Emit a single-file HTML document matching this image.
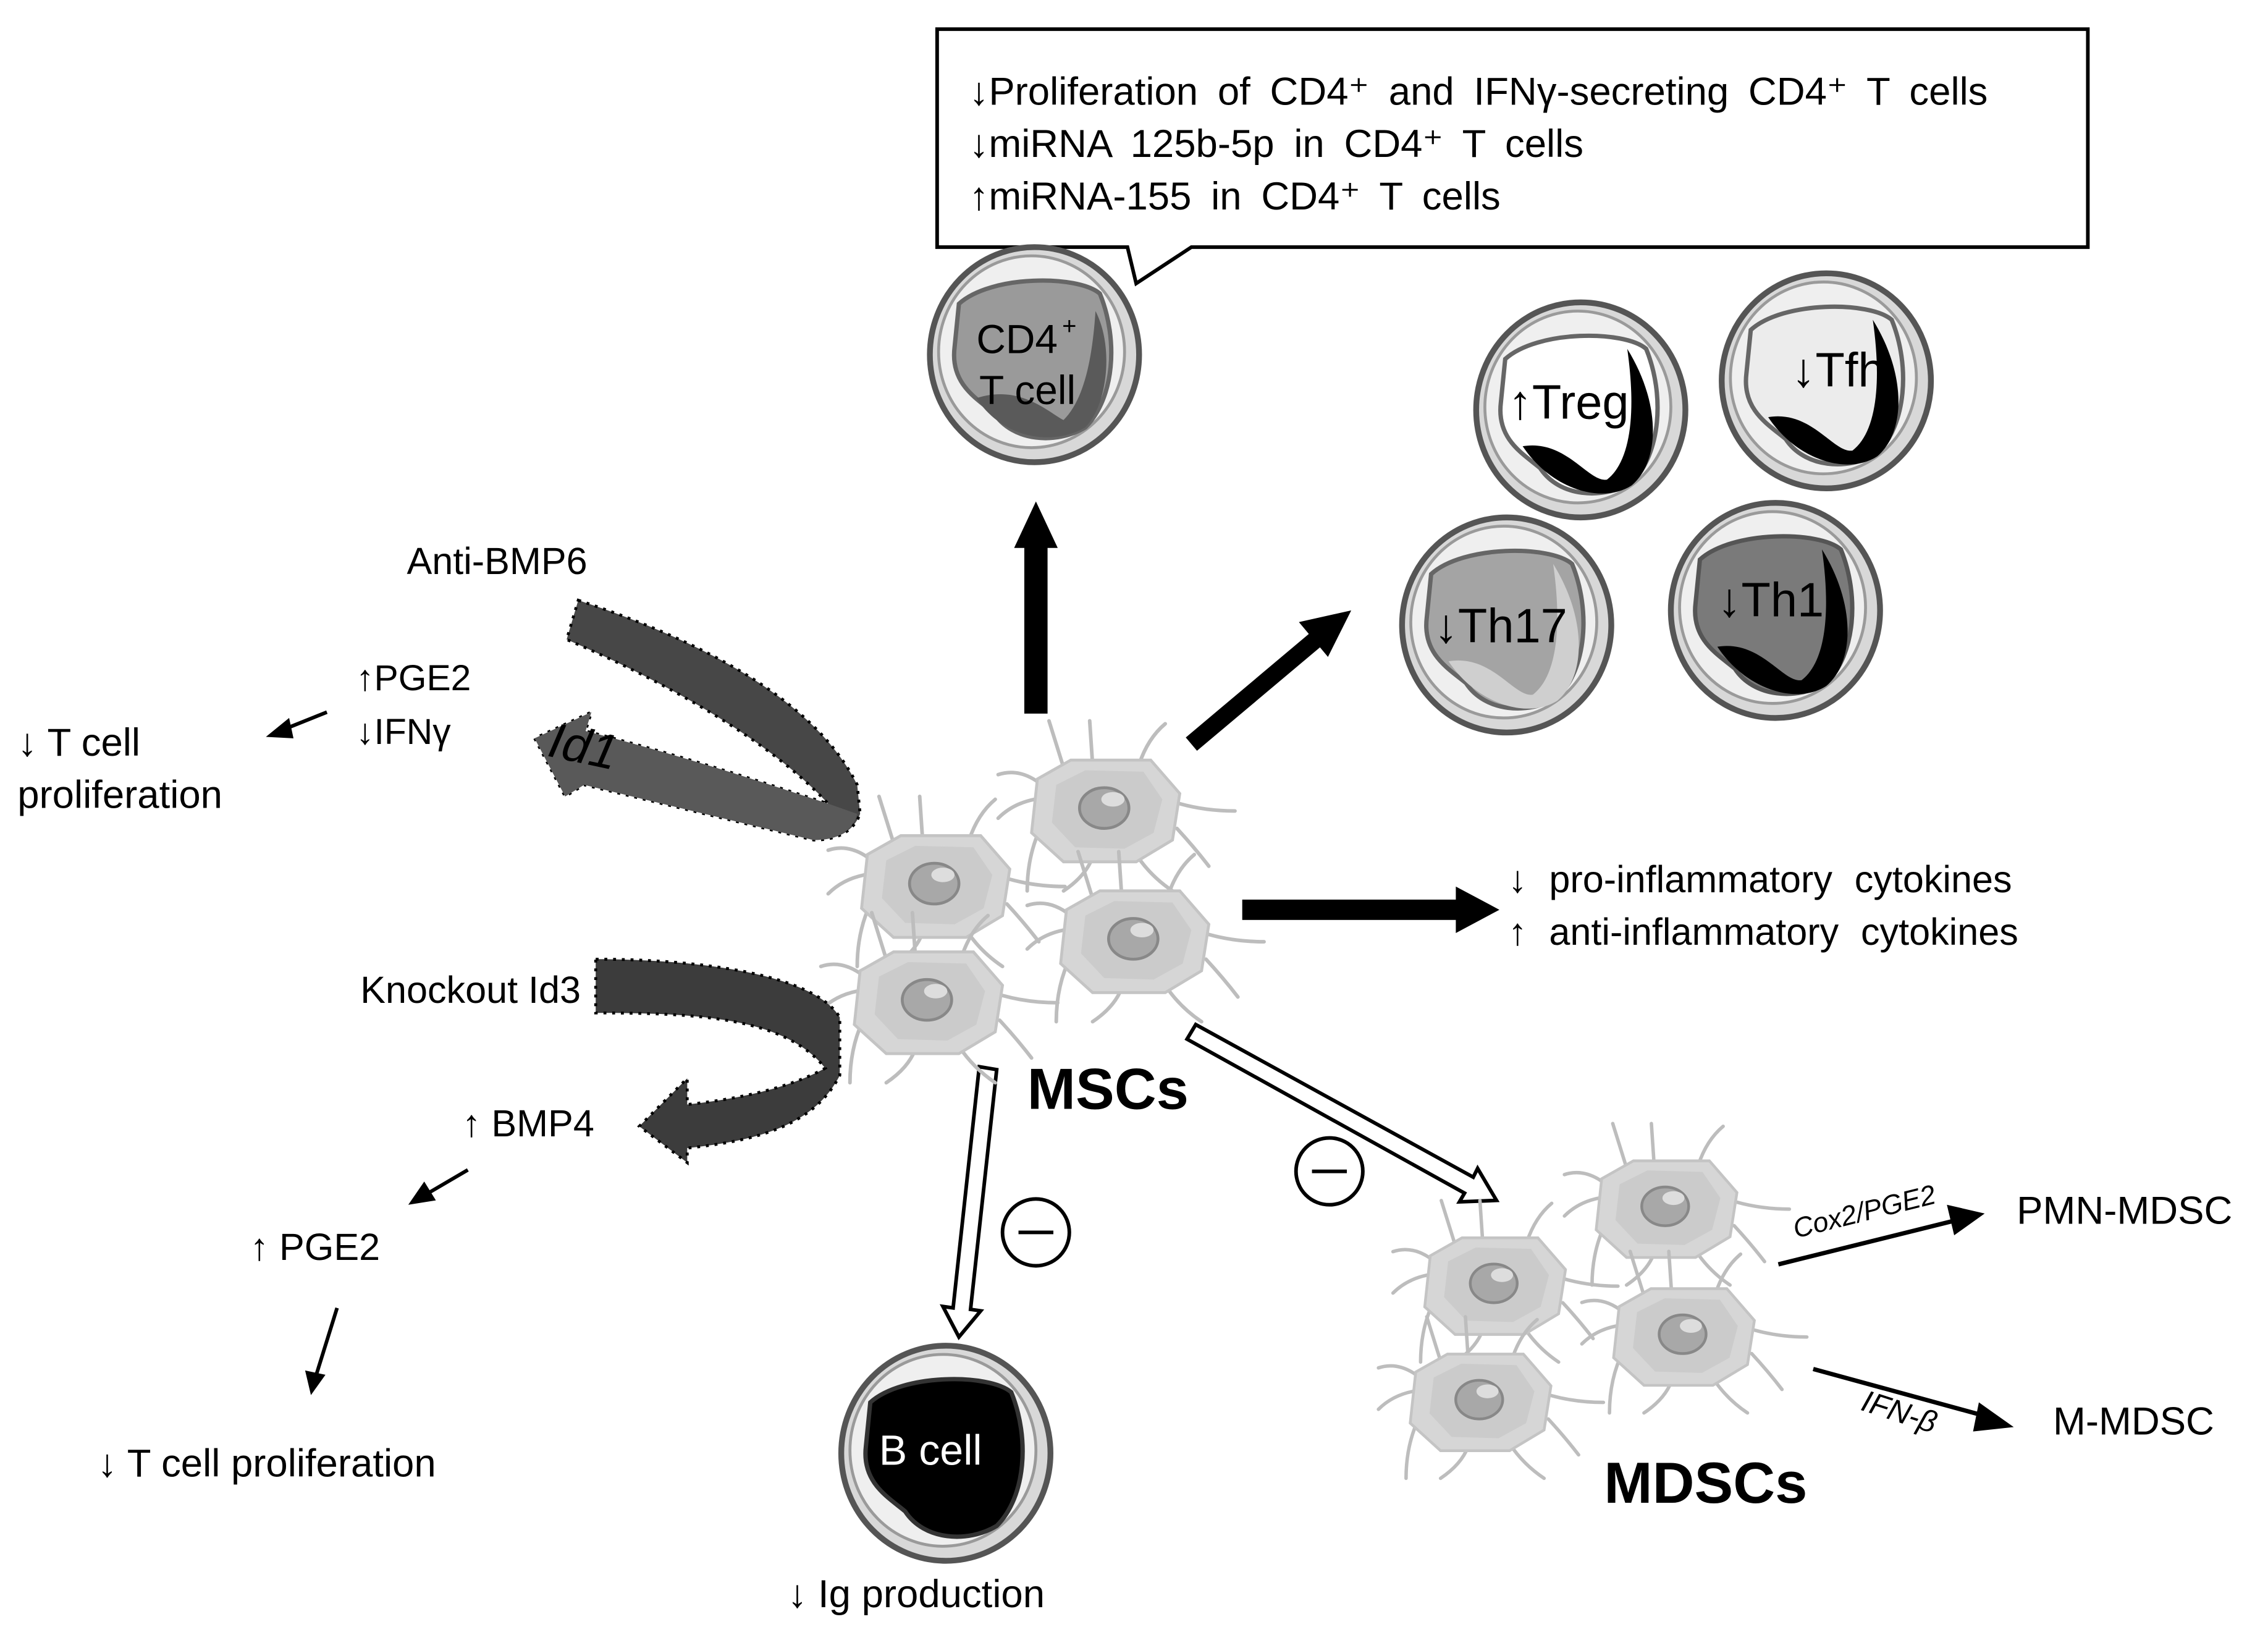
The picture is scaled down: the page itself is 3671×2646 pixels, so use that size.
<!DOCTYPE html>
<html><head><meta charset="utf-8"><style>
html,body{margin:0;padding:0;background:#fff;}
svg{display:block;}
text{font-family:"Liberation Sans",sans-serif;fill:#000;}
</style></head><body>
<svg width="3671" height="2646" viewBox="0 0 1561 1125" xmlns="http://www.w3.org/2000/svg">
<defs>
<g id="tc">
<ellipse cx="0" cy="0" rx="72" ry="74" fill="#d8d8d8" stroke="#555" stroke-width="4"/>
<ellipse cx="-2" cy="-2" rx="64" ry="66" fill="#efefef" stroke="#9a9a9a" stroke-width="2"/>
</g>
<g id="msc">
<g stroke="#bdbdbd" stroke-width="2.5" fill="none" stroke-linecap="round">
<path d="M-30,-30 L-40,-62 M-10,-32 L-12,-62 M22,-32 Q28,-50 40,-60 M-45,-18 Q-60,-30 -75,-25 M50,-5 Q68,0 88,0 M48,12 Q60,25 70,38 M20,30 Q30,45 45,55 M-10,32 Q-15,45 -30,55 M-45,10 Q-55,30 -55,55 M-50,-8 Q-65,-5 -75,5"/>
</g>
<path d="M-48,-22 L-25,-35 L30,-35 L50,-12 L45,20 L20,35 L-30,35 L-52,15 Z" fill="#d6d6d6" stroke="#c4c4c4" stroke-width="2"/>
<path d="M-35,-18 L-15,-28 L25,-27 L38,-8 L32,15 L12,26 L-22,25 L-38,8 Z" fill="#cbcbcb"/>
<ellipse cx="-2" cy="-2" rx="17" ry="14" fill="#a8a8a8" stroke="#888" stroke-width="2"/>
<ellipse cx="4" cy="-8" rx="8" ry="5" fill="#ddd"/>
</g>
<path id="nuc" d="M-52,-35 C-30,-55 30,-55 45,-42 C58,-10 55,30 35,50 C15,62 -15,60 -28,40 C-40,30 -58,20 -55,-5 Z"/>
<path id="cres" d="M-40,25 C-10,20 5,50 18,48 C35,35 38,0 32,-42 C55,-5 55,35 35,52 C15,65 -20,55 -40,25 Z"/>
</defs>

<!-- callout -->
<path d="M645,20 L1437,20 L1437,170 L820,170 L782,195 L776,170 L645,170 Z" fill="#fff" stroke="#000" stroke-width="2.5"/>
<g font-size="27" word-spacing="6">
<text x="667" y="72">↓Proliferation of CD4⁺ and IFNγ-secreting CD4⁺ T cells</text>
<text x="667" y="108">↓miRNA 125b-5p in CD4⁺ T cells</text>
<text x="667" y="144">↑miRNA-155 in CD4⁺ T cells</text>
</g>

<!-- CD4 cell -->
<g transform="translate(712,244)">
<use href="#tc"/>
<use href="#nuc" fill="#9a9a9a" stroke="#666" stroke-width="3"/>
<path d="M-40,30 C-10,20 10,40 20,45 C35,30 40,0 42,-30 C55,-5 50,35 35,50 C15,62 -20,60 -40,30 Z" fill="#5a5a5a"/>
<text x="-40" y="-1" font-size="28">CD4</text><text x="19" y="-14" font-size="17">+</text>
<text x="-38" y="34" font-size="28">T cell</text>
</g>

<!-- Treg -->
<g transform="translate(1088,282)">
<use href="#tc"/>
<use href="#nuc" fill="#fff" stroke="#666" stroke-width="3"/>
<use href="#cres" fill="#000"/>
<text x="-50" y="6" font-size="33">↑Treg</text>
</g>
<!-- Tfh -->
<g transform="translate(1257,262)">
<use href="#tc"/>
<use href="#nuc" fill="#ececec" stroke="#666" stroke-width="3"/>
<use href="#cres" fill="#000"/>
<text x="-24" y="4" font-size="33">↓Tfh</text>
</g>
<!-- Th17 -->
<g transform="translate(1037,430)">
<use href="#tc"/>
<use href="#nuc" fill="#a4a4a4" stroke="#666" stroke-width="3"/>
<use href="#cres" fill="#cfcfcf"/>
<text x="-50" y="12" font-size="33">↓Th17</text>
</g>
<!-- Th1 -->
<g transform="translate(1222,420)">
<use href="#tc"/>
<use href="#nuc" fill="#7a7a7a" stroke="#555" stroke-width="3"/>
<use href="#cres" fill="#000"/>
<text x="-40" y="4" font-size="33">↓Th1</text>
</g>

<!-- B cell -->
<g transform="translate(651,1000)">
<use href="#tc"/>
<use href="#nuc" fill="#000" stroke="#333" stroke-width="3"/>
<text x="-46" y="8" font-size="29" style="fill:#fff">B cell</text>
</g>
<text x="542" y="1106" font-size="27">↓ Ig production</text>

<!-- solid arrows -->
<rect x="705" y="375" width="16" height="116" fill="#000"/>
<polygon points="713,345 698,377 728,377" fill="#000"/>
<line x1="820" y1="512" x2="908" y2="438" stroke="#000" stroke-width="12"/>
<polygon points="930,420 894,428 914,452" fill="#000"/>
<rect x="855" y="619" width="150" height="14" fill="#000"/>
<polygon points="1032,626 1002,610 1002,642" fill="#000"/>
<g font-size="26" word-spacing="8">
<text x="1038" y="614">↓ pro-inflammatory cytokines</text>
<text x="1038" y="650">↑ anti-inflammatory cytokines</text>
</g>

<!-- hollow arrows -->
<polygon points="686,736 668,901 675,902 660,920 649,899 656,900 674,734" fill="#fff" stroke="#000" stroke-width="2.5"/>
<polygon points="823,705 1014,810 1017,804 1030,826 1004.5,827 1008,821 817,715" fill="#fff" stroke="#000" stroke-width="2.5"/>
<circle cx="713" cy="848" r="23" fill="#fff" stroke="#000" stroke-width="2.5"/>
<line x1="701" y1="848" x2="725" y2="848" stroke="#000" stroke-width="2.5"/>
<circle cx="915" cy="806" r="23" fill="#fff" stroke="#000" stroke-width="2.5"/>
<line x1="903" y1="806" x2="927" y2="806" stroke="#000" stroke-width="2.5"/>

<!-- MSC cells -->
<use href="#msc" transform="translate(645,610)"/>
<use href="#msc" transform="translate(762,558)"/>
<use href="#msc" transform="translate(782,648)"/>
<use href="#msc" transform="translate(640,690)"/>
<text x="707" y="763" font-size="40" font-weight="bold">MSCs</text>

<!-- MDSC cells -->
<use href="#msc" transform="translate(1030,885) scale(0.95)"/>
<use href="#msc" transform="translate(1148,832) scale(0.95)"/>
<use href="#msc" transform="translate(1160,920) scale(0.95)"/>
<use href="#msc" transform="translate(1020,965) scale(0.95)"/>
<text x="1104" y="1034" font-size="40" font-weight="bold">MDSCs</text>
<line x1="1224" y1="870" x2="1345" y2="840" stroke="#000" stroke-width="3"/>
<polygon points="1366,835 1340,829 1345,850" fill="#000"/>
<text transform="translate(1236,852) rotate(-14)" font-size="19" font-style="italic">Cox2/PGE2</text>
<text x="1388" y="842" font-size="27">PMN-MDSC</text>
<line x1="1248" y1="942" x2="1365" y2="974" stroke="#000" stroke-width="3"/>
<polygon points="1386,982 1362,965 1358,985" fill="#000"/>
<text transform="translate(1280,970) rotate(18)" font-size="21" font-style="italic">IFN-β</text>
<text x="1413" y="987" font-size="27">M-MDSC</text>

<!-- Id1 curved arrow -->
<path d="M398,413 C480,440 560,480 590,540 L592,560 Q585,578 560,578 L402,540 L389,548 L368,508 L407,490 L403,503 C470,520 530,540 570,553 C530,510 460,470 390,440 Z" fill="#474747" stroke="#000" stroke-width="2" stroke-dasharray="2,4"/>
<path d="M403,503 C470,520 530,540 570,553 L590,560 Q585,578 560,578 L402,540 L389,548 L368,508 L407,490 Z" fill="#595959"/>
<text transform="translate(376,520) rotate(12)" font-size="34" font-style="italic">Id1</text>
<text x="280" y="395" font-size="26">Anti-BMP6</text>
<text x="245" y="475" font-size="25">↑PGE2</text>
<text x="245" y="512" font-size="25">↓IFNγ</text>
<line x1="225" y1="490" x2="195" y2="502" stroke="#000" stroke-width="2.5"/>
<polygon points="183,507 199,494 202,508" fill="#000"/>
<text x="12" y="520" font-size="27">↓ T cell</text>
<text x="12" y="556" font-size="27">proliferation</text>

<!-- Id3 curved arrow -->
<path d="M410,660 C480,660 560,670 578,700 L578,740 C560,775 520,785 473,790 L473,800 L440,775 L473,742 L473,760 C520,755 550,745 568,735 C540,700 480,697 410,697 Z" fill="#3c3c3c" stroke="#000" stroke-width="2" stroke-dasharray="2,4"/>
<text x="248" y="690" font-size="26">Knockout Id3</text>
<text x="318" y="782" font-size="26">↑ BMP4</text>
<line x1="322" y1="805" x2="293" y2="822" stroke="#000" stroke-width="2.5"/>
<polygon points="281,829 292,813 300,826" fill="#000"/>
<text x="172" y="867" font-size="26">↑ PGE2</text>
<line x1="232" y1="900" x2="218" y2="945" stroke="#000" stroke-width="2.5"/>
<polygon points="214,960 210,943 224,946" fill="#000"/>
<text x="67" y="1016" font-size="27">↓ T cell proliferation</text>
</svg>
</body></html>
